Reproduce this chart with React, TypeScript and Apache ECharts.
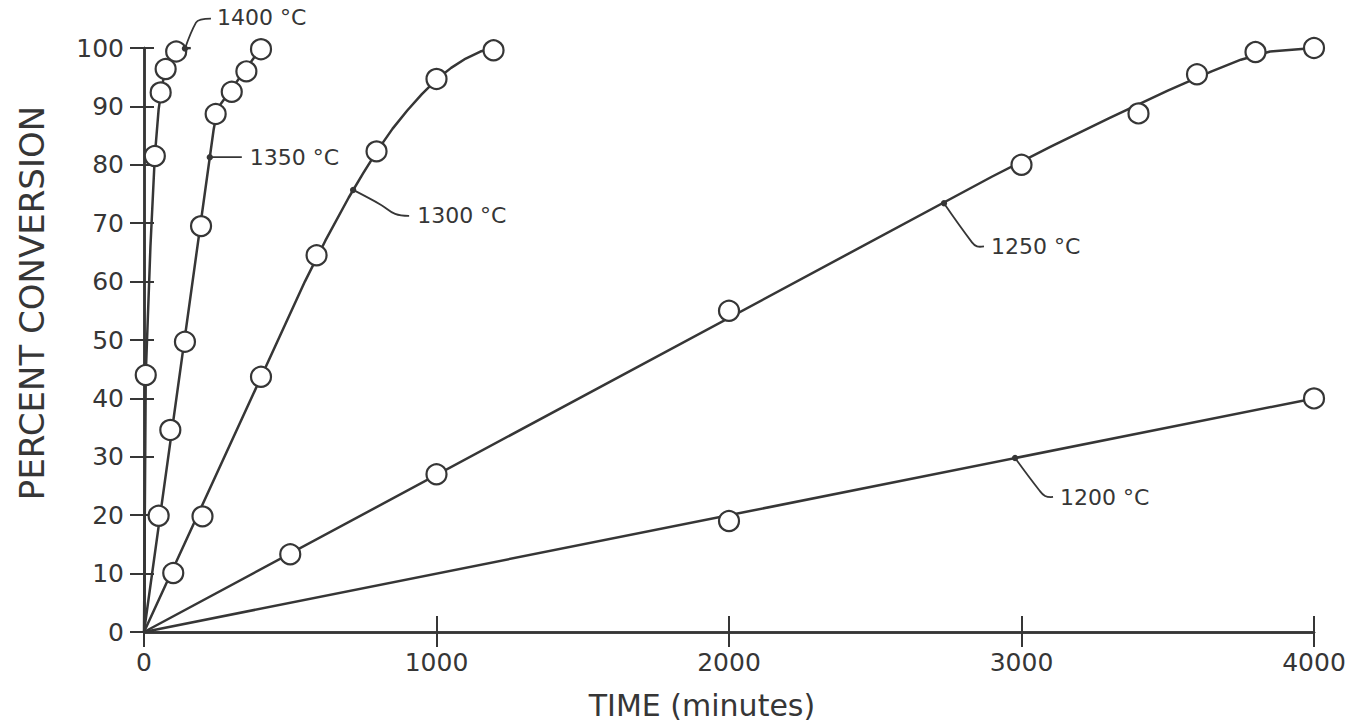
import React, { useEffect, useRef } from "react";
import * as echarts from "echarts";

// ---- Data (time in minutes, percent conversion) ----
const timeTicks = [0, 1000, 2000, 3000, 4000];
const percentTicks = [0, 10, 20, 30, 40, 50, 60, 70, 80, 90, 100];

const seriesNames = ["1400 °C", "1350 °C", "1300 °C", "1250 °C", "1200 °C"];

// measured points (open circles)
const t1400 = [6, 37, 57, 74, 110];
const p1400 = [44, 81.5, 92.4, 96.4, 99.4];
const t1350 = [50, 90, 140, 195, 245, 300, 350, 400];
const p1350 = [19.9, 34.6, 49.7, 69.5, 88.7, 92.5, 96, 99.8];
const t1300 = [100, 200, 400, 590, 795, 1000, 1195];
const p1300 = [10.1, 19.8, 43.7, 64.5, 82.3, 94.7, 99.6];
const t1250 = [500, 1000, 2000, 3000, 3400, 3600, 3800, 4000];
const p1250 = [13.3, 27, 55, 80, 88.8, 95.5, 99.3, 100];
const t1200 = [2000, 4000];
const p1200 = [19, 40];

// drawn curves
const c1400t = [0, 6, 22, 37, 50, 62, 74, 90, 110, 135, 160];
const c1400p = [0, 44, 66, 81.5, 89.5, 93.6, 96.4, 98.2, 99.4, 99.9, 100];
const c1350t = [0, 238, 248, 258, 400];
const c1350p = [0, 86, 88.7, 90.1, 100];
const c1300t = [0, 550, 620, 700, 750, 800, 850, 900, 950, 1000, 1050, 1100, 1150, 1195];
const c1300p = [0, 60, 67, 74.4, 78.6, 82.6, 86.2, 89.3, 92.1, 94.6, 96.6, 98.2, 99.4, 100];
const c1250t = [0, 2900, 3100, 3300, 3500, 3650, 3750, 3850, 4000];
const c1250p = [0, 78, 83.1, 88, 92.7, 96, 98, 99.4, 100];
const c1200t = [0, 4000];
const c1200p = [0, 40];

// label anchor points on each curve (data coordinates)
const anchorT = [140, 225, 715, 2735, 2978];
const anchorP = [99.9, 81.3, 75.7, 73.4, 29.8];

// ---- presentation ----
const INK = "#363636";
const FONT = "DejaVu Sans";
// leader polyline offsets (px, relative to anchor) and text offsets
const leaderPaths: number[][][] = [
  [[0, 0], [11, -26], [16, -29], [26, -30]],
  [[0, 0], [32, 0]],
  [[0, 0], [28, 15], [42, 24], [56, 26]],
  [[0, 0], [28, 39], [33, 43], [40, 43]],
  [[0, 0], [24, 32], [30, 38], [38, 39]],
];
const textOffsets = [
  [32, -31],
  [40, 0],
  [64, 26],
  [47, 43],
  [45, 40],
];

const zip = (a: number[], b: number[]) => a.map((v, i) => [v, b[i]]);

export default function App() {
  const ref = useRef<HTMLDivElement>(null);
  useEffect(() => {
    if (!ref.current) return;
    const chart = echarts.init(ref.current, null, { renderer: "svg" });
    const curves = [
      zip(c1400t, c1400p),
      zip(c1350t, c1350p),
      zip(c1300t, c1300p),
      zip(c1250t, c1250p),
      zip(c1200t, c1200p),
    ];
    const points = [
      zip(t1400, p1400),
      zip(t1350, p1350),
      zip(t1300, p1300),
      zip(t1250, p1250),
      zip(t1200, p1200),
    ];
    const axisLine = { show: true, lineStyle: { color: INK, width: 2.5 } };
    const labelStyle = {
      fontSize: 25,
      color: INK,
      fontFamily: FONT,
      formatter: (v: number) => String(v),
    };
    const option: any = {
      animation: false,
      backgroundColor: "#ffffff",
      grid: { left: 144, right: 45, top: 48, bottom: 94, containLabel: false },
      xAxis: [
        {
          type: "value",
          position: "bottom",
          min: timeTicks[0],
          max: timeTicks[timeTicks.length - 1],
          interval: 1000,
          axisLine,
          axisTick: { show: true, inside: true, length: 16, lineStyle: { color: INK, width: 2 } },
          axisLabel: { ...labelStyle, margin: 18 },
          splitLine: { show: false },
        },
        {
          type: "value",
          position: "top",
          min: timeTicks[0],
          max: timeTicks[timeTicks.length - 1],
          interval: 1000,
          axisLine,
          axisTick: { show: true, inside: true, length: 15, lineStyle: { color: INK, width: 2 } },
          axisLabel: { show: false },
          splitLine: { show: false },
        },
      ],
      yAxis: [
        {
          type: "value",
          position: "left",
          min: percentTicks[0],
          max: percentTicks[percentTicks.length - 1],
          interval: 10,
          axisLine,
          axisTick: { show: true, inside: true, length: 10, lineStyle: { color: INK, width: 2 } },
          axisLabel: { ...labelStyle, margin: 20 },
          splitLine: { show: false },
        },
        {
          type: "value",
          position: "right",
          min: percentTicks[0],
          max: percentTicks[percentTicks.length - 1],
          interval: 10,
          axisLine,
          axisTick: { show: true, inside: true, length: 14, lineStyle: { color: INK, width: 2 } },
          axisLabel: { show: false },
          splitLine: { show: false },
        },
      ],
      series: [
        ...curves.map((d, i) => ({
          name: seriesNames[i] + " curve",
          type: "line",
          data: d,
          showSymbol: false,
          symbol: "none",
          smooth: false,
          lineStyle: { color: INK, width: 2.5, join: "round" },
          z: 2,
        })),
        ...points.map((d, i) => ({
          name: seriesNames[i],
          type: "scatter",
          data: d,
          symbol: "circle",
          symbolSize: 20,
          itemStyle: { color: "#ffffff", borderColor: INK, borderWidth: 2.2, opacity: 1 },
          z: 4,
        })),
      ],
    };
    chart.setOption(option);

    const graphics: any[] = [];
    anchorT.forEach((t, i) => {
      const [ax, ay] = chart.convertToPixel({ xAxisIndex: 0, yAxisIndex: 0 }, [t, anchorP[i]]) as number[];
      graphics.push({
        type: "polyline",
        shape: { points: leaderPaths[i].map(([dx, dy]) => [ax + dx, ay + dy]), smooth: 0.4 },
        style: { stroke: INK, lineWidth: 1.8, fill: null },
        z: 5,
      });
      graphics.push({
        type: "circle",
        shape: { cx: ax, cy: ay, r: 3.2 },
        style: { fill: INK },
        z: 5,
      });
      graphics.push({
        type: "text",
        x: ax + textOffsets[i][0],
        y: ay + textOffsets[i][1],
        style: {
          text: seriesNames[i],
          fontSize: 22,
          fontFamily: FONT,
          fill: INK,
          align: "left",
          verticalAlign: "middle",
        },
        z: 6,
      });
    });
    graphics.push({
      type: "text",
      x: 32,
      y: 303,
      rotation: Math.PI / 2,
      style: {
        text: "PERCENT CONVERSION",
        fontSize: 34,
        fontFamily: FONT,
        fill: INK,
        align: "center",
        verticalAlign: "middle",
      },
    });
    graphics.push({
      type: "text",
      x: 702,
      y: 705,
      style: {
        text: "TIME (minutes)",
        fontSize: 30,
        fontFamily: FONT,
        fill: INK,
        align: "center",
        verticalAlign: "middle",
      },
    });
    chart.setOption({ graphic: graphics });

    return () => chart.dispose();
  }, []);
  return (
    <div
      ref={ref}
      style={{ position: "fixed", left: 0, top: 0, width: 1359, height: 726, background: "#fff" }}
    />
  );
}
